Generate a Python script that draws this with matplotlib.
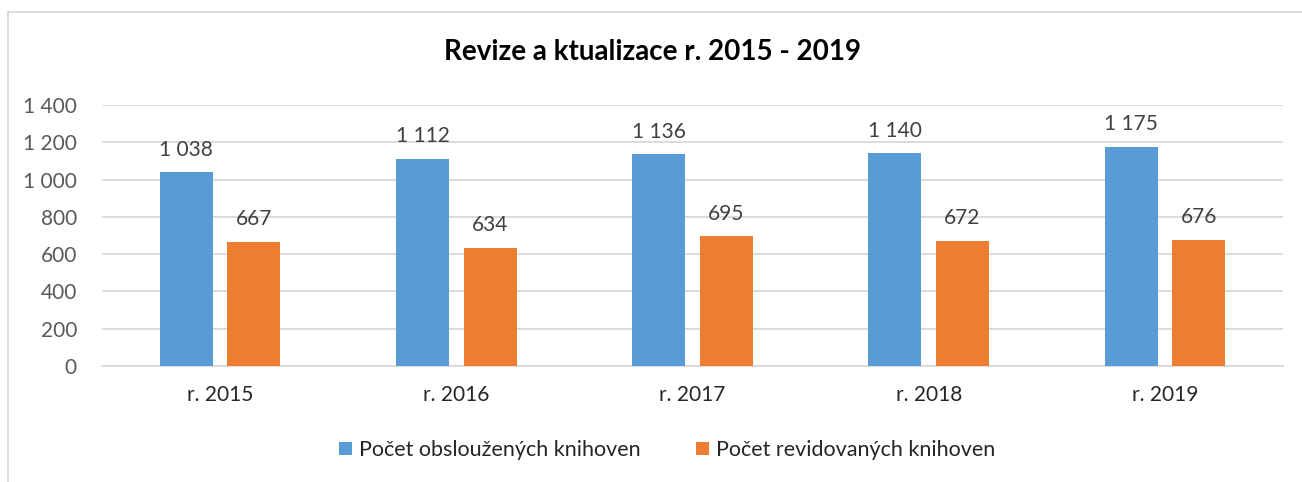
import matplotlib
matplotlib.use("Agg")
import matplotlib.pyplot as plt
from matplotlib.lines import Line2D
import numpy as np

categories = ["r. 2015", "r. 2016", "r. 2017", "r. 2018", "r. 2019"]
served = [1038, 1112, 1136, 1140, 1175]
revised = [667, 634, 695, 672, 676]
series_names = ["Počet obsloužených knihoven", "Počet revidovaných knihoven"]
yticks = [0, 200, 400, 600, 800, 1000, 1200, 1400]
title = "Revize a ktualizace r. 2015 - 2019"

def fmt(v):
    return f"{v:,}".replace(",", " ")

plt.rcParams['font.family'] = ['Lato', 'DejaVu Sans']

W, H = 1302, 482
fig = plt.figure(figsize=(W / 100, H / 100), dpi=100)
ax = fig.add_axes([102 / W, 1 - 366 / H, (1283 - 102) / W, (366 - 105) / H])

blue = "#5B9BD5"
orange = "#ED7D31"
x = np.arange(len(categories))
bw = 0.225
off = 0.143
b1 = ax.bar(x - off, served, bw, color=blue, label=series_names[0], zorder=3)
b2 = ax.bar(x + off, revised, bw, color=orange, label=series_names[1], zorder=3)

for bars, vals in ((b1, served), (b2, revised)):
    for r, v in zip(bars, vals):
        ax.annotate(fmt(v), (r.get_x() + r.get_width() / 2, v),
                    xytext=(0, 9), textcoords="offset points",
                    ha="center", va="bottom", fontsize=15, color="#404040")

ax.set_xlim(-0.5, len(categories) - 0.5)
ax.set_ylim(0, 1400)
ax.set_yticks(yticks)
ax.set_yticklabels([fmt(v) for v in yticks], fontsize=15, color="#595959")
ax.set_xticks(x)
ax.set_xticklabels(categories, fontsize=15, color="#262626")
ax.tick_params(axis="both", length=0)
ax.tick_params(axis="y", pad=18)
ax.tick_params(axis="x", pad=14)
ax.grid(axis="y", color="#D9D9D9", linewidth=1.3, zorder=0)
for s in ["top", "right", "left"]:
    ax.spines[s].set_visible(False)
ax.spines["bottom"].set_color("#D9D9D9")
ax.spines["bottom"].set_linewidth(1.3)

fig.text(652 / W, 1 - 52 / H, title, ha="center", va="center",
         fontsize=20, fontweight="bold", color="black")

leg = fig.legend(handles=[b1, b2], labels=series_names, loc="center",
                 bbox_to_anchor=(667 / W, 1 - 450 / H), ncol=2, frameon=False,
                 fontsize=15.5, handlelength=0.6, handleheight=0.6,
                 handletextpad=0.3, columnspacing=2.6)
for t in leg.get_texts():
    t.set_color("#262626")

# chart border (left and top visible)
fig.add_artist(Line2D([8 / W, 1.0], [1 - 12 / H, 1 - 12 / H], color="#D9D9D9", linewidth=1.3, transform=fig.transFigure))
fig.add_artist(Line2D([8 / W, 8 / W], [0, 1 - 12 / H], color="#D9D9D9", linewidth=1.3, transform=fig.transFigure))

fig.savefig("out.png", dpi=100)
